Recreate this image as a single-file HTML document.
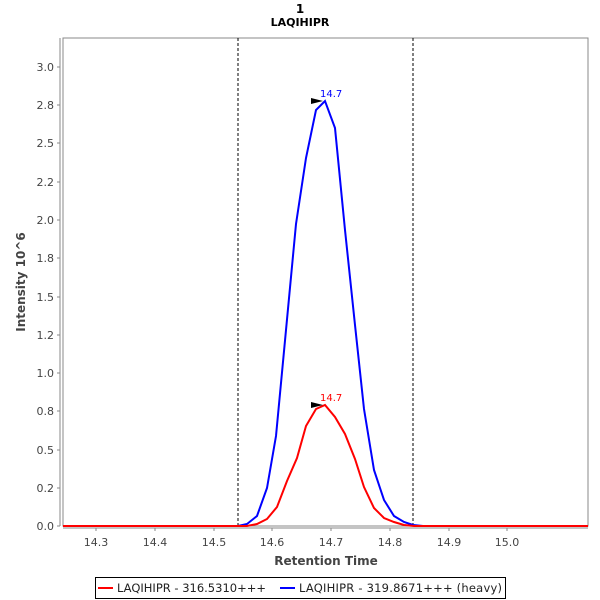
<!DOCTYPE html>
<html><head><meta charset="utf-8"><style>body{margin:0;background:#fff}svg{display:block}</style></head>
<body>
<svg width="600" height="600" xmlns="http://www.w3.org/2000/svg" font-family="DejaVu Sans, Liberation Sans, sans-serif">
<rect width="600" height="600" fill="#fff"/>
<text x="300" y="13" font-size="12" font-weight="bold" text-anchor="middle">1</text>
<text x="300" y="26" font-size="11" font-weight="bold" text-anchor="middle">LAQIHIPR</text>
<rect x="63" y="38" width="525" height="488" fill="#fff" stroke="#888" stroke-width="1"/>
<line x1="60" y1="38" x2="60" y2="526" stroke="#888"/>
<line x1="63" y1="528" x2="588" y2="528" stroke="#888"/>
<g font-size="11" fill="#444" text-anchor="end">
<text x="54" y="71">3.0</text><text x="54" y="109">2.8</text><text x="54" y="147">2.5</text><text x="54" y="186">2.2</text><text x="54" y="224">2.0</text><text x="54" y="262">1.8</text><text x="54" y="301">1.5</text><text x="54" y="339">1.2</text><text x="54" y="377">1.0</text><text x="54" y="415">0.8</text><text x="54" y="454">0.5</text><text x="54" y="492">0.2</text><text x="54" y="530">0.0</text>
</g>
<g stroke="#888"><line x1="57" y1="67" x2="60" y2="67"/><line x1="57" y1="105" x2="60" y2="105"/><line x1="57" y1="143" x2="60" y2="143"/><line x1="57" y1="182" x2="60" y2="182"/><line x1="57" y1="220" x2="60" y2="220"/><line x1="57" y1="258" x2="60" y2="258"/><line x1="57" y1="297" x2="60" y2="297"/><line x1="57" y1="335" x2="60" y2="335"/><line x1="57" y1="373" x2="60" y2="373"/><line x1="57" y1="411" x2="60" y2="411"/><line x1="57" y1="450" x2="60" y2="450"/><line x1="57" y1="488" x2="60" y2="488"/><line x1="57" y1="526" x2="60" y2="526"/></g>
<g font-size="11" fill="#444" text-anchor="middle">
<text x="96" y="546">14.3</text><text x="155" y="546">14.4</text><text x="214" y="546">14.5</text><text x="272" y="546">14.6</text><text x="331" y="546">14.7</text><text x="390" y="546">14.8</text><text x="449" y="546">14.9</text><text x="507" y="546">15.0</text>
</g>
<g stroke="#888"><line x1="96" y1="528" x2="96" y2="531"/><line x1="155" y1="528" x2="155" y2="531"/><line x1="214" y1="528" x2="214" y2="531"/><line x1="272" y1="528" x2="272" y2="531"/><line x1="331" y1="528" x2="331" y2="531"/><line x1="390" y1="528" x2="390" y2="531"/><line x1="449" y1="528" x2="449" y2="531"/><line x1="507" y1="528" x2="507" y2="531"/></g>
<text x="326" y="565" font-size="12" font-weight="bold" fill="#444" text-anchor="middle">Retention Time</text>
<text transform="translate(25,282) rotate(-90)" font-size="12" font-weight="bold" fill="#444" text-anchor="middle">Intensity 10^6</text>
<line x1="238" y1="38" x2="238" y2="526" stroke="#000" stroke-dasharray="3,2"/>
<line x1="413" y1="38" x2="413" y2="526" stroke="#000" stroke-dasharray="3,2"/>
<polyline fill="none" stroke="#00f" stroke-width="2" points="63,526 238,526 247,524 257,516 267,488 276,436 286,330 296,224 306,158 316,110 325,101 335,128 345,230 355,325 364,409 374,470 384,500 394,516 404,522 413,525 423,526 588,526"/>
<polyline fill="none" stroke="#f00" stroke-width="2" points="63,526 247,526 257,524 267,519 277,507 287,481 297,458 306,426 316,409 325,405 335,417 345,434 355,459 364,487 374,508 384,518 394,522 404,525 414,526 588,526"/>
<polygon points="311,98 311,104 323,101" fill="#000"/>
<polygon points="311,402 311,408 323,405" fill="#000"/>
<text x="320" y="97" font-size="10" fill="#00f">14.7</text>
<text x="320" y="401" font-size="10" fill="#f00">14.7</text>
<rect x="95.5" y="577.5" width="410" height="21" fill="#fff" stroke="#000"/>
<line x1="98" y1="588" x2="113" y2="588" stroke="#f00" stroke-width="2"/>
<text x="117" y="592" font-size="11.5" fill="#222">LAQIHIPR - 316.5310+++</text>
<line x1="280" y1="588" x2="295" y2="588" stroke="#00f" stroke-width="2"/>
<text x="299" y="592" font-size="11.5" fill="#222" textLength="203">LAQIHIPR - 319.8671+++ (heavy)</text>
</svg>
</body></html>
